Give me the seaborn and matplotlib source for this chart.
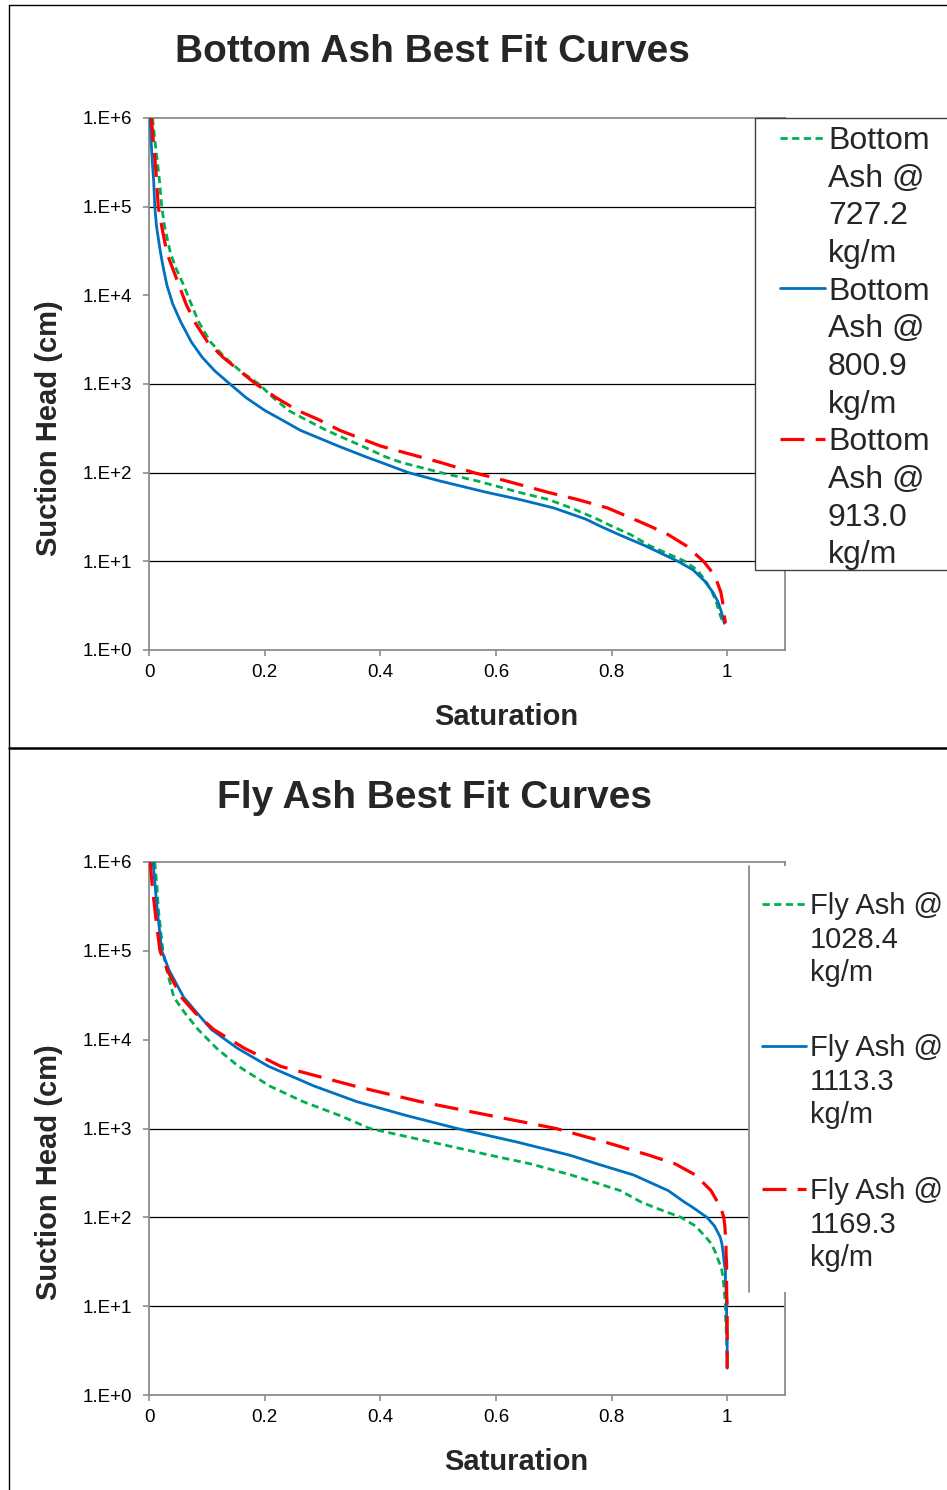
import matplotlib
matplotlib.use("Agg")
import matplotlib.pyplot as plt
import seaborn as sns
from matplotlib.lines import Line2D
from matplotlib.patches import Rectangle
from matplotlib.ticker import FixedLocator, NullLocator

heads = [1.0e6, 5.0e5, 3.0e5, 2.0e5, 1.0e5, 6.0e4, 3.0e4, 2.0e4, 1.3e4, 8.0e3, 5.0e3,
         3.0e3, 2.0e3, 1.4e3, 1.0e3, 700, 500, 400, 300, 200, 150, 130, 100, 80, 60,
         50, 40, 30, 25, 20, 15, 10, 8, 6, 4.5, 3.5, 2.7, 2.0]

# Bottom ash saturation values
ba_727 = [0.006, 0.011, 0.015, 0.018, 0.022, 0.027, 0.037, 0.047, 0.060, 0.073, 0.086,
          0.106, 0.131, 0.158, 0.190, 0.215, 0.242, 0.270, 0.307, 0.368, 0.410, 0.437,
          0.505, 0.570, 0.640, 0.690, 0.730, 0.775, 0.800, 0.833, 0.866, 0.927, 0.948,
          0.963, 0.974, 0.981, 0.986, 0.993]
ba_801 = [0.002, 0.004, 0.006, 0.008, 0.010, 0.013, 0.020, 0.025, 0.031, 0.041, 0.055,
          0.073, 0.092, 0.114, 0.140, 0.168, 0.201, 0.228, 0.262, 0.327, 0.376, 0.402,
          0.449, 0.505, 0.584, 0.640, 0.700, 0.755, 0.780, 0.813, 0.858, 0.915, 0.941,
          0.961, 0.975, 0.984, 0.990, 0.995]
ba_913 = [0.004, 0.008, 0.011, 0.013, 0.016, 0.022, 0.031, 0.041, 0.052, 0.064, 0.079,
          0.101, 0.128, 0.157, 0.185, 0.220, 0.258, 0.292, 0.330, 0.400, 0.470, 0.505,
          0.562, 0.620, 0.690, 0.740, 0.793, 0.838, 0.866, 0.898, 0.929, 0.959, 0.971,
          0.982, 0.989, 0.992, 0.994, 0.997]

# Fly ash saturation values
fa_1028 = [0.010, 0.014, 0.016, 0.019, 0.024, 0.031, 0.043, 0.062, 0.085, 0.117, 0.155,
           0.209, 0.267, 0.330, 0.382, 0.490, 0.590, 0.660, 0.730, 0.815, 0.850, 0.873,
           0.920, 0.945, 0.963, 0.973, 0.980, 0.987, 0.991, 0.993, 0.995, 0.997, 0.997,
           0.998, 0.999, 0.999, 1.000, 1.000]
fa_1113 = [0.007, 0.011, 0.014, 0.017, 0.022, 0.035, 0.060, 0.083, 0.108, 0.153, 0.207,
           0.286, 0.360, 0.445, 0.533, 0.638, 0.728, 0.775, 0.838, 0.898, 0.925, 0.940,
           0.965, 0.978, 0.988, 0.991, 0.993, 0.995, 0.997, 0.997, 0.998, 0.999, 0.999,
           0.999, 1.000, 1.000, 1.000, 1.000]
fa_1169 = [0.002, 0.006, 0.010, 0.013, 0.019, 0.032, 0.056, 0.080, 0.112, 0.165, 0.228,
           0.356, 0.470, 0.590, 0.704, 0.790, 0.865, 0.910, 0.945, 0.972, 0.983, 0.989,
           0.994, 0.996, 0.997, 0.998, 0.998, 0.999, 0.999, 0.999, 0.999, 1.000, 1.000,
           1.000, 1.000, 1.000, 1.000, 1.000]

ba_labels = ["Bottom\nAsh @\n727.2\nkg/m", "Bottom\nAsh @\n800.9\nkg/m", "Bottom\nAsh @\n913.0\nkg/m"]
fa_labels = ["Fly Ash @\n1028.4\nkg/m", "Fly Ash @\n1113.3\nkg/m", "Fly Ash @\n1169.3\nkg/m"]

y_ticks = [1, 10, 100, 1e3, 1e4, 1e5, 1e6]
y_ticklabels = ["1.E+0", "1.E+1", "1.E+2", "1.E+3", "1.E+4", "1.E+5", "1.E+6"]
x_ticks = [0, 0.2, 0.4, 0.6, 0.8, 1.0]
x_ticklabels = ["0", "0.2", "0.4", "0.6", "0.8", "1"]

colors = ["#00B050", "#0070C0", "#FF0000"]
styles = [(0, (2.6, 1.6)), "-", (0, (7.5, 3.5))]
widths = [2.0, 2.0, 2.3]

sns.set_theme(style="white")
plt.rcParams["font.family"] = ["Liberation Sans", "DejaVu Sans"]

W, H = 947, 1490
fig = plt.figure(figsize=(W / 100, H / 100), dpi=100)


def fx(px):
    return px / W


def fy(py):
    return 1 - py / H


def setup(ax, grid_levels):
    ax.set_yscale("log")
    ax.set_ylim(1, 1e6)
    ax.set_xlim(0, 1.1)
    ax.yaxis.set_major_locator(FixedLocator(y_ticks))
    ax.yaxis.set_minor_locator(NullLocator())
    ax.set_yticklabels(y_ticklabels)
    ax.set_xticks(x_ticks)
    ax.set_xticklabels(x_ticklabels)
    for lvl in grid_levels:
        ax.axhline(lvl, color="black", lw=0.9, zorder=1)
    for sp in ax.spines.values():
        sp.set_color("#8c8c8c")
        sp.set_linewidth(1.3)
    ax.tick_params(axis="both", direction="out", length=4, width=1.2, color="#8c8c8c",
                   labelsize=13.5, labelcolor="black")
    ax.tick_params(axis="y", pad=8.5, left=True)
    ax.tick_params(axis="x", pad=6, bottom=True)
    ax.set_xlabel("Saturation", fontsize=21, fontweight="bold")
    ax.set_ylabel("Suction Head (cm)", fontsize=21, fontweight="bold")


def draw(ax, series):
    for sat, c, ls, lw in zip(series, colors, styles, widths):
        sns.lineplot(x=sat, y=heads, ax=ax, sort=False, estimator=None,
                     color=c, linestyle=ls, linewidth=lw, zorder=3)


def entry_rows(label, c, ls, lw):
    handles, rows = [], []
    for j, line in enumerate(label.split("\n")):
        if j == 0:
            handles.append(Line2D([], [], color=c, linestyle=ls, linewidth=lw))
        else:
            handles.append(Line2D([], [], color="none"))
        rows.append(line)
    return handles, rows


# top panel: bottom ash
ax1 = fig.add_axes([fx(149), fy(650), 636 / W, 532 / H])
setup(ax1, [10, 100, 1e3, 1e5])
draw(ax1, [ba_727, ba_801, ba_913])
ax1.xaxis.set_label_coords(0.561, -0.1)
ax1.yaxis.set_label_coords(-0.135, 0.417)

# bottom panel: fly ash
ax2 = fig.add_axes([fx(149), fy(1395), 636 / W, 533 / H])
setup(ax2, [10, 100, 1e3])
draw(ax2, [fa_1028, fa_1113, fa_1169])
ax2.xaxis.set_label_coords(0.577, -0.1)
ax2.yaxis.set_label_coords(-0.135, 0.418)

fig.text(fx(432), fy(52), "Bottom Ash Best Fit Curves", ha="center", va="center",
         fontsize=28, fontweight="bold")
fig.text(fx(434), fy(798), "Fly Ash Best Fit Curves", ha="center", va="center",
         fontsize=28, fontweight="bold")

# page frame and divider
fig.add_artist(Line2D([fx(9), fx(9)], [0, fy(5)], color="black", lw=1.0))
fig.add_artist(Line2D([fx(9), 1], [fy(5), fy(5)], color="black", lw=1.0))
fig.add_artist(Line2D([fx(9), 1], [fy(748), fy(748)], color="black", lw=1.8))

# legend boxes
fig.add_artist(Rectangle((fx(755), fy(570)), fx(980) - fx(755), 452 / H,
                         transform=fig.transFigure, facecolor="white",
                         edgecolor="#404040", lw=1.0, zorder=3))
fig.add_artist(Rectangle((fx(749), fy(1292)), fx(980) - fx(749), 426 / H,
                         transform=fig.transFigure, facecolor="white",
                         edgecolor="none", zorder=3))
fig.add_artist(Line2D([fx(749), fx(749)], [fy(1292), fy(866)], color="#8c8c8c",
                      lw=1.3, zorder=4))

h1, r1 = [], []
for lab, c, ls, lw in zip(ba_labels, colors, styles, widths):
    hh, rr = entry_rows(lab, c, ls, lw)
    h1 += hh
    r1 += rr
fig.legend(h1, r1, loc="upper left", bbox_to_anchor=(fx(780), fy(126)),
           frameon=False, borderpad=0, borderaxespad=0, handlelength=1.4,
           handletextpad=0.1, labelspacing=0.24, fontsize=23)

for lab, c, ls, lw, top in zip(fa_labels, colors, styles, widths, [892, 1034, 1177]):
    hh, rr = entry_rows(lab, c, ls, lw)
    fig.legend(hh, rr, loc="upper left", bbox_to_anchor=(fx(762), fy(top)),
               frameon=False, borderpad=0, borderaxespad=0, handlelength=1.5,
               handletextpad=0.15, labelspacing=0.19, fontsize=21)

fig.savefig("out.png", dpi=100, facecolor="white")
